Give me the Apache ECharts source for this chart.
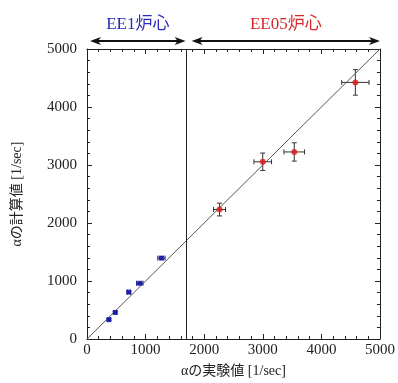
<!DOCTYPE html>
<html>
<head>
<meta charset="utf-8">
<script src="https://cdn.jsdelivr.net/npm/echarts@6/dist/echarts.min.js"></script>
<style>
  html, body { margin: 0; padding: 0; background: #fff; }
  #chart { width: 398px; height: 383px; }
</style>
</head>
<body>
<div id="chart"></div>
<script>
// EE1 core (blue)
const ee1X = [374, 482, 714, 901, 1270];
const ee1Y = [334, 458, 808, 961, 1395];
const ee1XErr = [20, 22, 28, 55, 62];
const ee1YErr = [15, 15, 20, 20, 25];

// EE05 core (red)
const ee05X = [2262, 2999, 3537, 4580];
const ee05Y = [2232, 3056, 3225, 4424];
const ee05XErr = [102, 150, 176, 233];
const ee05YErr = [110, 150, 158, 220];

const boundary = 1700;
const axisMax = 5000;
const regions = [
  { name: "EE1炉心", from: 0, to: boundary, color: "#2a2ab8" },
  { name: "EE05炉心", from: boundary, to: axisMax, color: "#d8262a" }
];

const serif = "'Liberation Serif', 'DejaVu Serif', 'Noto Sans CJK JP', serif";
const nameFont = "'Liberation Serif', 'Noto Sans CJK JP', serif";

const chart = echarts.init(document.getElementById("chart"));

function errData(xs, ys, xe, ye) {
  return xs.map((x, i) => [x, ys[i], xe[i], ye[i]]);
}

function renderErr(color) {
  return function (params, api) {
    const x = api.value(0), y = api.value(1), dx = api.value(2), dy = api.value(3);
    const l = api.coord([x - dx, y]), r = api.coord([x + dx, y]);
    const t = api.coord([x, y + dy]), b = api.coord([x, y - dy]);
    const cap = 2.5;
    const style = { stroke: color, lineWidth: 1 };
    return {
      type: "group",
      children: [
        { type: "line", shape: { x1: l[0], y1: l[1], x2: r[0], y2: r[1] }, style },
        { type: "line", shape: { x1: l[0], y1: l[1] - cap, x2: l[0], y2: l[1] + cap }, style },
        { type: "line", shape: { x1: r[0], y1: r[1] - cap, x2: r[0], y2: r[1] + cap }, style },
        { type: "line", shape: { x1: t[0], y1: t[1], x2: b[0], y2: b[1] }, style },
        { type: "line", shape: { x1: t[0] - cap, y1: t[1], x2: t[0] + cap, y2: t[1] }, style },
        { type: "line", shape: { x1: b[0] - cap, y1: b[1], x2: b[0] + cap, y2: b[1] }, style }
      ]
    };
  };
}

const tickCommon = {
  axisLine: { onZero: false, lineStyle: { color: "#222", width: 1 } },
  axisTick: { inside: true, length: 5, lineStyle: { color: "#222" } },
  minorTick: { show: true, splitNumber: 5, length: 3, lineStyle: { color: "#222" } },
  splitLine: { show: false }
};
const plainNum = v => String(v);

chart.setOption({
  animation: false,
  grid: { left: 87, right: 17, top: 49, bottom: 39 },
  xAxis: [
    Object.assign({
      type: "value", min: 0, max: axisMax, interval: 1000,
      name: "αの実験値 [1/sec]", nameLocation: "middle", nameGap: 25,
      nameTextStyle: { fontFamily: nameFont, fontSize: 14, color: "#222" },
      axisLabel: { fontFamily: serif, fontSize: 15, color: "#222", margin: 4, formatter: plainNum }
    }, tickCommon),
    Object.assign({
      type: "value", min: 0, max: axisMax, interval: 1000, position: "top",
      axisLabel: { show: false }
    }, tickCommon)
  ],
  yAxis: [
    Object.assign({
      type: "value", min: 0, max: axisMax, interval: 1000,
      name: "αの計算値 [1/sec]", nameLocation: "middle", nameGap: 63,
      nameTextStyle: { fontFamily: nameFont, fontSize: 14, color: "#222" },
      axisLabel: { fontFamily: serif, fontSize: 15, color: "#222", margin: 10, formatter: plainNum }
    }, tickCommon),
    Object.assign({
      type: "value", min: 0, max: axisMax, interval: 1000, position: "right",
      axisLabel: { show: false }
    }, tickCommon)
  ],
  series: [
    {
      type: "line",
      data: [[0, 0], [axisMax, axisMax]],
      symbol: "none",
      lineStyle: { color: "#555", width: 1 },
      markLine: {
        silent: true,
        symbol: "none",
        label: { show: false },
        lineStyle: { color: "#222", width: 1, type: "solid" },
        data: [{ xAxis: boundary }]
      }
    },
    {
      type: "custom",
      renderItem: renderErr("#1a1a8c"),
      data: errData(ee1X, ee1Y, ee1XErr, ee1YErr),
      encode: { x: 0, y: 1 },
      z: 3
    },
    {
      type: "custom",
      renderItem: renderErr("#333"),
      data: errData(ee05X, ee05Y, ee05XErr, ee05YErr),
      encode: { x: 0, y: 1 },
      z: 3
    },
    {
      type: "scatter",
      data: ee1X.map((x, i) => [x, ee1Y[i]]),
      symbol: "rect",
      symbolSize: 5,
      itemStyle: { color: "#1616a8" },
      z: 4
    },
    {
      type: "scatter",
      data: ee05X.map((x, i) => [x, ee05Y[i]]),
      symbol: "circle",
      symbolSize: 6,
      itemStyle: { color: "#e01818" },
      z: 4
    }
  ]
});

// region arrows and labels above the plot
const arrowY = 41;
const graphics = [];
function head(x, y, dir) {
  const len = 11, half = 4, notch = 3;
  return {
    type: "polygon",
    shape: { points: [[x, y], [x - dir * len, y - half], [x - dir * (len - notch), y], [x - dir * len, y + half]] },
    style: { fill: "#111" }
  };
}
regions.forEach((r, i) => {
  const a = chart.convertToPixel({ xAxisIndex: 0 }, r.from) + (i === 0 ? 3 : 5);
  const b = chart.convertToPixel({ xAxisIndex: 0 }, r.to) - (i === 0 ? 1 : 0);
  graphics.push({ type: "line", shape: { x1: a + 4, y1: arrowY, x2: b - 4, y2: arrowY }, style: { stroke: "#111", lineWidth: 2 } });
  graphics.push(head(a, arrowY, -1));
  graphics.push(head(b, arrowY, 1));
  graphics.push({
    type: "text",
    x: (a + b) / 2, y: 25,
    style: { text: r.name, fill: r.color, font: "17px " + nameFont, align: "center", verticalAlign: "middle" }
  });
});
chart.setOption({ graphic: graphics });
</script>
</body>
</html>
